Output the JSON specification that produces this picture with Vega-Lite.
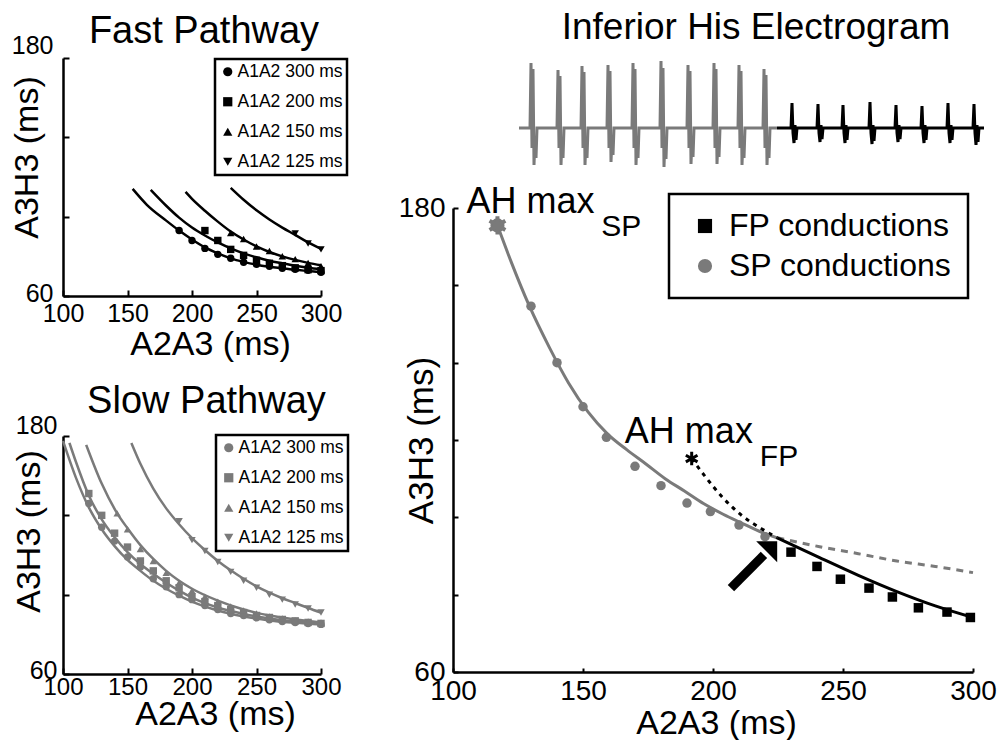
{
  "$schema": "https://vega.github.io/schema/vega-lite/v6.json",
  "padding": {"left": 9, "top": 9, "right": 0, "bottom": 0},
  "config": {
    "font": "Liberation Sans",
    "view": {"stroke": null},
    "axis": {"grid": false, "domainColor": "black", "domainWidth": 2.5, "tickColor": "black", "tickWidth": 2, "labelColor": "black", "titleColor": "black", "titleFontWeight": "normal", "labelFlush": false, "labelOverlap": false, "labelFont": "Liberation Sans", "titleFont": "Liberation Sans"},
    "legend": {"strokeWidth": 2.5, "labelLimit": 400},
    "text": {"color": "black", "font": "Liberation Sans"}
  },
  "datasets": {
    "fast_fit": [
      {"a1a2": "A1A2 300 ms", "a2a3": 154, "a3h3": 114}, {"a1a2": "A1A2 300 ms", "a2a3": 165, "a3h3": 106}, {"a1a2": "A1A2 300 ms", "a2a3": 180, "a3h3": 98}, {"a1a2": "A1A2 300 ms", "a2a3": 190, "a3h3": 93}, {"a1a2": "A1A2 300 ms", "a2a3": 200, "a3h3": 88.5}, {"a1a2": "A1A2 300 ms", "a2a3": 210, "a3h3": 84.5}, {"a1a2": "A1A2 300 ms", "a2a3": 220, "a3h3": 81.5}, {"a1a2": "A1A2 300 ms", "a2a3": 230, "a3h3": 79}, {"a1a2": "A1A2 300 ms", "a2a3": 240, "a3h3": 77.2}, {"a1a2": "A1A2 300 ms", "a2a3": 250, "a3h3": 75.8}, {"a1a2": "A1A2 300 ms", "a2a3": 260, "a3h3": 74.8}, {"a1a2": "A1A2 300 ms", "a2a3": 270, "a3h3": 74}, {"a1a2": "A1A2 300 ms", "a2a3": 280, "a3h3": 73.2}, {"a1a2": "A1A2 300 ms", "a2a3": 290, "a3h3": 72.6}, {"a1a2": "A1A2 300 ms", "a2a3": 300, "a3h3": 72},
      {"a1a2": "A1A2 200 ms", "a2a3": 168, "a3h3": 113.5}, {"a1a2": "A1A2 200 ms", "a2a3": 180, "a3h3": 105.5}, {"a1a2": "A1A2 200 ms", "a2a3": 190, "a3h3": 99.5}, {"a1a2": "A1A2 200 ms", "a2a3": 200, "a3h3": 94.5}, {"a1a2": "A1A2 200 ms", "a2a3": 210, "a3h3": 90.5}, {"a1a2": "A1A2 200 ms", "a2a3": 220, "a3h3": 87}, {"a1a2": "A1A2 200 ms", "a2a3": 230, "a3h3": 84}, {"a1a2": "A1A2 200 ms", "a2a3": 240, "a3h3": 81.5}, {"a1a2": "A1A2 200 ms", "a2a3": 250, "a3h3": 79.5}, {"a1a2": "A1A2 200 ms", "a2a3": 260, "a3h3": 77.8}, {"a1a2": "A1A2 200 ms", "a2a3": 270, "a3h3": 76.5}, {"a1a2": "A1A2 200 ms", "a2a3": 280, "a3h3": 75.3}, {"a1a2": "A1A2 200 ms", "a2a3": 290, "a3h3": 74.3}, {"a1a2": "A1A2 200 ms", "a2a3": 300, "a3h3": 73.5},
      {"a1a2": "A1A2 150 ms", "a2a3": 195, "a3h3": 112.5}, {"a1a2": "A1A2 150 ms", "a2a3": 200, "a3h3": 109}, {"a1a2": "A1A2 150 ms", "a2a3": 210, "a3h3": 103}, {"a1a2": "A1A2 150 ms", "a2a3": 220, "a3h3": 97.5}, {"a1a2": "A1A2 150 ms", "a2a3": 230, "a3h3": 92.5}, {"a1a2": "A1A2 150 ms", "a2a3": 240, "a3h3": 88.5}, {"a1a2": "A1A2 150 ms", "a2a3": 250, "a3h3": 85}, {"a1a2": "A1A2 150 ms", "a2a3": 260, "a3h3": 82.2}, {"a1a2": "A1A2 150 ms", "a2a3": 270, "a3h3": 80}, {"a1a2": "A1A2 150 ms", "a2a3": 280, "a3h3": 78.2}, {"a1a2": "A1A2 150 ms", "a2a3": 290, "a3h3": 76.7}, {"a1a2": "A1A2 150 ms", "a2a3": 300, "a3h3": 75.5},
      {"a1a2": "A1A2 125 ms", "a2a3": 230, "a3h3": 114.5}, {"a1a2": "A1A2 125 ms", "a2a3": 240, "a3h3": 108.5}, {"a1a2": "A1A2 125 ms", "a2a3": 250, "a3h3": 103.2}, {"a1a2": "A1A2 125 ms", "a2a3": 260, "a3h3": 98.6}, {"a1a2": "A1A2 125 ms", "a2a3": 270, "a3h3": 94.5}, {"a1a2": "A1A2 125 ms", "a2a3": 280, "a3h3": 90.8}, {"a1a2": "A1A2 125 ms", "a2a3": 290, "a3h3": 87}, {"a1a2": "A1A2 125 ms", "a2a3": 300, "a3h3": 83.7}
    ],
    "fast_pts": [
      {"a1a2": "A1A2 300 ms", "a2a3": 190, "a3h3": 93}, {"a1a2": "A1A2 300 ms", "a2a3": 200, "a3h3": 88}, {"a1a2": "A1A2 300 ms", "a2a3": 210, "a3h3": 84}, {"a1a2": "A1A2 300 ms", "a2a3": 220, "a3h3": 81}, {"a1a2": "A1A2 300 ms", "a2a3": 230, "a3h3": 79}, {"a1a2": "A1A2 300 ms", "a2a3": 240, "a3h3": 77}, {"a1a2": "A1A2 300 ms", "a2a3": 250, "a3h3": 76}, {"a1a2": "A1A2 300 ms", "a2a3": 260, "a3h3": 75}, {"a1a2": "A1A2 300 ms", "a2a3": 270, "a3h3": 74}, {"a1a2": "A1A2 300 ms", "a2a3": 280, "a3h3": 73.5}, {"a1a2": "A1A2 300 ms", "a2a3": 290, "a3h3": 73}, {"a1a2": "A1A2 300 ms", "a2a3": 300, "a3h3": 72},
      {"a1a2": "A1A2 200 ms", "a2a3": 210, "a3h3": 93}, {"a1a2": "A1A2 200 ms", "a2a3": 220, "a3h3": 88}, {"a1a2": "A1A2 200 ms", "a2a3": 230, "a3h3": 83.5}, {"a1a2": "A1A2 200 ms", "a2a3": 240, "a3h3": 80.5}, {"a1a2": "A1A2 200 ms", "a2a3": 250, "a3h3": 78}, {"a1a2": "A1A2 200 ms", "a2a3": 260, "a3h3": 76.5}, {"a1a2": "A1A2 200 ms", "a2a3": 270, "a3h3": 75.3}, {"a1a2": "A1A2 200 ms", "a2a3": 280, "a3h3": 74.2}, {"a1a2": "A1A2 200 ms", "a2a3": 290, "a3h3": 73.3}, {"a1a2": "A1A2 200 ms", "a2a3": 300, "a3h3": 72.8},
      {"a1a2": "A1A2 150 ms", "a2a3": 230, "a3h3": 91.8}, {"a1a2": "A1A2 150 ms", "a2a3": 240, "a3h3": 88.7}, {"a1a2": "A1A2 150 ms", "a2a3": 250, "a3h3": 85}, {"a1a2": "A1A2 150 ms", "a2a3": 260, "a3h3": 82.7}, {"a1a2": "A1A2 150 ms", "a2a3": 270, "a3h3": 80}, {"a1a2": "A1A2 150 ms", "a2a3": 280, "a3h3": 78.6}, {"a1a2": "A1A2 150 ms", "a2a3": 290, "a3h3": 76.6}, {"a1a2": "A1A2 150 ms", "a2a3": 300, "a3h3": 75},
      {"a1a2": "A1A2 125 ms", "a2a3": 280, "a3h3": 91.5}, {"a1a2": "A1A2 125 ms", "a2a3": 290, "a3h3": 86.5}, {"a1a2": "A1A2 125 ms", "a2a3": 300, "a3h3": 83.5}
    ],
    "slow_fit": [
      {"a1a2": "A1A2 300 ms", "a2a3": 100, "a3h3": 177.5}, {"a1a2": "A1A2 300 ms", "a2a3": 110, "a3h3": 159}, {"a1a2": "A1A2 300 ms", "a2a3": 120, "a3h3": 144}, {"a1a2": "A1A2 300 ms", "a2a3": 130, "a3h3": 133}, {"a1a2": "A1A2 300 ms", "a2a3": 140, "a3h3": 124.5}, {"a1a2": "A1A2 300 ms", "a2a3": 150, "a3h3": 117.5}, {"a1a2": "A1A2 300 ms", "a2a3": 160, "a3h3": 112}, {"a1a2": "A1A2 300 ms", "a2a3": 170, "a3h3": 107}, {"a1a2": "A1A2 300 ms", "a2a3": 180, "a3h3": 103}, {"a1a2": "A1A2 300 ms", "a2a3": 190, "a3h3": 99.5}, {"a1a2": "A1A2 300 ms", "a2a3": 200, "a3h3": 96.5}, {"a1a2": "A1A2 300 ms", "a2a3": 220, "a3h3": 92}, {"a1a2": "A1A2 300 ms", "a2a3": 240, "a3h3": 89}, {"a1a2": "A1A2 300 ms", "a2a3": 260, "a3h3": 87}, {"a1a2": "A1A2 300 ms", "a2a3": 280, "a3h3": 85.8}, {"a1a2": "A1A2 300 ms", "a2a3": 300, "a3h3": 85},
      {"a1a2": "A1A2 200 ms", "a2a3": 105, "a3h3": 176.5}, {"a1a2": "A1A2 200 ms", "a2a3": 110, "a3h3": 167}, {"a1a2": "A1A2 200 ms", "a2a3": 120, "a3h3": 150}, {"a1a2": "A1A2 200 ms", "a2a3": 130, "a3h3": 138}, {"a1a2": "A1A2 200 ms", "a2a3": 140, "a3h3": 129}, {"a1a2": "A1A2 200 ms", "a2a3": 150, "a3h3": 121.5}, {"a1a2": "A1A2 200 ms", "a2a3": 160, "a3h3": 115.5}, {"a1a2": "A1A2 200 ms", "a2a3": 170, "a3h3": 110.5}, {"a1a2": "A1A2 200 ms", "a2a3": 180, "a3h3": 106}, {"a1a2": "A1A2 200 ms", "a2a3": 190, "a3h3": 102}, {"a1a2": "A1A2 200 ms", "a2a3": 200, "a3h3": 98.5}, {"a1a2": "A1A2 200 ms", "a2a3": 220, "a3h3": 93.5}, {"a1a2": "A1A2 200 ms", "a2a3": 240, "a3h3": 90.3}, {"a1a2": "A1A2 200 ms", "a2a3": 260, "a3h3": 88}, {"a1a2": "A1A2 200 ms", "a2a3": 280, "a3h3": 86.5}, {"a1a2": "A1A2 200 ms", "a2a3": 300, "a3h3": 85.5},
      {"a1a2": "A1A2 150 ms", "a2a3": 118, "a3h3": 175.5}, {"a1a2": "A1A2 150 ms", "a2a3": 130, "a3h3": 156}, {"a1a2": "A1A2 150 ms", "a2a3": 142, "a3h3": 141}, {"a1a2": "A1A2 150 ms", "a2a3": 150, "a3h3": 133.5}, {"a1a2": "A1A2 150 ms", "a2a3": 160, "a3h3": 125}, {"a1a2": "A1A2 150 ms", "a2a3": 170, "a3h3": 118}, {"a1a2": "A1A2 150 ms", "a2a3": 180, "a3h3": 112}, {"a1a2": "A1A2 150 ms", "a2a3": 190, "a3h3": 107}, {"a1a2": "A1A2 150 ms", "a2a3": 200, "a3h3": 103}, {"a1a2": "A1A2 150 ms", "a2a3": 220, "a3h3": 97}, {"a1a2": "A1A2 150 ms", "a2a3": 240, "a3h3": 92.5}, {"a1a2": "A1A2 150 ms", "a2a3": 260, "a3h3": 89.5}, {"a1a2": "A1A2 150 ms", "a2a3": 280, "a3h3": 87.5}, {"a1a2": "A1A2 150 ms", "a2a3": 300, "a3h3": 86},
      {"a1a2": "A1A2 125 ms", "a2a3": 153, "a3h3": 176.5}, {"a1a2": "A1A2 125 ms", "a2a3": 160, "a3h3": 166}, {"a1a2": "A1A2 125 ms", "a2a3": 170, "a3h3": 153.5}, {"a1a2": "A1A2 125 ms", "a2a3": 180, "a3h3": 143.5}, {"a1a2": "A1A2 125 ms", "a2a3": 190, "a3h3": 135.5}, {"a1a2": "A1A2 125 ms", "a2a3": 200, "a3h3": 128.5}, {"a1a2": "A1A2 125 ms", "a2a3": 210, "a3h3": 122.5}, {"a1a2": "A1A2 125 ms", "a2a3": 220, "a3h3": 117}, {"a1a2": "A1A2 125 ms", "a2a3": 230, "a3h3": 112.3}, {"a1a2": "A1A2 125 ms", "a2a3": 240, "a3h3": 108}, {"a1a2": "A1A2 125 ms", "a2a3": 250, "a3h3": 104.2}, {"a1a2": "A1A2 125 ms", "a2a3": 260, "a3h3": 101}, {"a1a2": "A1A2 125 ms", "a2a3": 270, "a3h3": 98.2}, {"a1a2": "A1A2 125 ms", "a2a3": 280, "a3h3": 95.8}, {"a1a2": "A1A2 125 ms", "a2a3": 290, "a3h3": 93.3}, {"a1a2": "A1A2 125 ms", "a2a3": 300, "a3h3": 91}
    ],
    "slow_pts": [
      {"a1a2": "A1A2 300 ms", "a2a3": 120, "a3h3": 146}, {"a1a2": "A1A2 300 ms", "a2a3": 130, "a3h3": 134}, {"a1a2": "A1A2 300 ms", "a2a3": 140, "a3h3": 127}, {"a1a2": "A1A2 300 ms", "a2a3": 150, "a3h3": 119}, {"a1a2": "A1A2 300 ms", "a2a3": 160, "a3h3": 114}, {"a1a2": "A1A2 300 ms", "a2a3": 170, "a3h3": 108}, {"a1a2": "A1A2 300 ms", "a2a3": 180, "a3h3": 104}, {"a1a2": "A1A2 300 ms", "a2a3": 190, "a3h3": 100}, {"a1a2": "A1A2 300 ms", "a2a3": 200, "a3h3": 97.5}, {"a1a2": "A1A2 300 ms", "a2a3": 210, "a3h3": 94.5}, {"a1a2": "A1A2 300 ms", "a2a3": 220, "a3h3": 92.5}, {"a1a2": "A1A2 300 ms", "a2a3": 230, "a3h3": 90.5}, {"a1a2": "A1A2 300 ms", "a2a3": 240, "a3h3": 89.5}, {"a1a2": "A1A2 300 ms", "a2a3": 250, "a3h3": 88.3}, {"a1a2": "A1A2 300 ms", "a2a3": 260, "a3h3": 87.3}, {"a1a2": "A1A2 300 ms", "a2a3": 270, "a3h3": 86.5}, {"a1a2": "A1A2 300 ms", "a2a3": 280, "a3h3": 86}, {"a1a2": "A1A2 300 ms", "a2a3": 290, "a3h3": 85.5}, {"a1a2": "A1A2 300 ms", "a2a3": 300, "a3h3": 85},
      {"a1a2": "A1A2 200 ms", "a2a3": 120, "a3h3": 151}, {"a1a2": "A1A2 200 ms", "a2a3": 130, "a3h3": 140}, {"a1a2": "A1A2 200 ms", "a2a3": 140, "a3h3": 131}, {"a1a2": "A1A2 200 ms", "a2a3": 150, "a3h3": 124}, {"a1a2": "A1A2 200 ms", "a2a3": 160, "a3h3": 117}, {"a1a2": "A1A2 200 ms", "a2a3": 170, "a3h3": 112}, {"a1a2": "A1A2 200 ms", "a2a3": 180, "a3h3": 107}, {"a1a2": "A1A2 200 ms", "a2a3": 190, "a3h3": 103.5}, {"a1a2": "A1A2 200 ms", "a2a3": 200, "a3h3": 99}, {"a1a2": "A1A2 200 ms", "a2a3": 210, "a3h3": 96.5}, {"a1a2": "A1A2 200 ms", "a2a3": 220, "a3h3": 94.5}, {"a1a2": "A1A2 200 ms", "a2a3": 230, "a3h3": 92.5}, {"a1a2": "A1A2 200 ms", "a2a3": 240, "a3h3": 91}, {"a1a2": "A1A2 200 ms", "a2a3": 250, "a3h3": 89.5}, {"a1a2": "A1A2 200 ms", "a2a3": 260, "a3h3": 88.5}, {"a1a2": "A1A2 200 ms", "a2a3": 270, "a3h3": 87.5}, {"a1a2": "A1A2 200 ms", "a2a3": 280, "a3h3": 86.8}, {"a1a2": "A1A2 200 ms", "a2a3": 290, "a3h3": 86}, {"a1a2": "A1A2 200 ms", "a2a3": 300, "a3h3": 85.5},
      {"a1a2": "A1A2 150 ms", "a2a3": 142, "a3h3": 141}, {"a1a2": "A1A2 150 ms", "a2a3": 150, "a3h3": 133}, {"a1a2": "A1A2 150 ms", "a2a3": 160, "a3h3": 123}, {"a1a2": "A1A2 150 ms", "a2a3": 170, "a3h3": 117}, {"a1a2": "A1A2 150 ms", "a2a3": 180, "a3h3": 111}, {"a1a2": "A1A2 150 ms", "a2a3": 190, "a3h3": 106}, {"a1a2": "A1A2 150 ms", "a2a3": 200, "a3h3": 102}, {"a1a2": "A1A2 150 ms", "a2a3": 210, "a3h3": 99}, {"a1a2": "A1A2 150 ms", "a2a3": 220, "a3h3": 96.5}, {"a1a2": "A1A2 150 ms", "a2a3": 230, "a3h3": 94}, {"a1a2": "A1A2 150 ms", "a2a3": 240, "a3h3": 92}, {"a1a2": "A1A2 150 ms", "a2a3": 250, "a3h3": 90.5}, {"a1a2": "A1A2 150 ms", "a2a3": 260, "a3h3": 89}, {"a1a2": "A1A2 150 ms", "a2a3": 270, "a3h3": 88}, {"a1a2": "A1A2 150 ms", "a2a3": 280, "a3h3": 87}, {"a1a2": "A1A2 150 ms", "a2a3": 290, "a3h3": 86.5}, {"a1a2": "A1A2 150 ms", "a2a3": 300, "a3h3": 86},
      {"a1a2": "A1A2 125 ms", "a2a3": 190, "a3h3": 137}, {"a1a2": "A1A2 125 ms", "a2a3": 200, "a3h3": 127.5}, {"a1a2": "A1A2 125 ms", "a2a3": 210, "a3h3": 122}, {"a1a2": "A1A2 125 ms", "a2a3": 220, "a3h3": 116.5}, {"a1a2": "A1A2 125 ms", "a2a3": 230, "a3h3": 111.5}, {"a1a2": "A1A2 125 ms", "a2a3": 240, "a3h3": 107}, {"a1a2": "A1A2 125 ms", "a2a3": 250, "a3h3": 103.5}, {"a1a2": "A1A2 125 ms", "a2a3": 260, "a3h3": 100}, {"a1a2": "A1A2 125 ms", "a2a3": 270, "a3h3": 97.5}, {"a1a2": "A1A2 125 ms", "a2a3": 280, "a3h3": 95}, {"a1a2": "A1A2 125 ms", "a2a3": 290, "a3h3": 93}, {"a1a2": "A1A2 125 ms", "a2a3": 300, "a3h3": 91}
    ],
    "main_curves": [
      {"seg": "sp_fit", "a2a3": 117.1, "a3h3": 175.5}, {"seg": "sp_fit", "a2a3": 122.3, "a3h3": 166.2}, {"seg": "sp_fit", "a2a3": 129.4, "a3h3": 154.6}, {"seg": "sp_fit", "a2a3": 137.1, "a3h3": 143.9}, {"seg": "sp_fit", "a2a3": 144.5, "a3h3": 134.7}, {"seg": "sp_fit", "a2a3": 152, "a3h3": 127.2}, {"seg": "sp_fit", "a2a3": 159.4, "a3h3": 121.6}, {"seg": "sp_fit", "a2a3": 166.8, "a3h3": 117.5}, {"seg": "sp_fit", "a2a3": 174.2, "a3h3": 113.8}, {"seg": "sp_fit", "a2a3": 181.6, "a3h3": 110}, {"seg": "sp_fit", "a2a3": 189, "a3h3": 106.8}, {"seg": "sp_fit", "a2a3": 196.5, "a3h3": 103.5}, {"seg": "sp_fit", "a2a3": 203.9, "a3h3": 100.8}, {"seg": "sp_fit", "a2a3": 211.4, "a3h3": 98.4}, {"seg": "sp_fit", "a2a3": 218.8, "a3h3": 96.1}, {"seg": "sp_fit", "a2a3": 224.7, "a3h3": 94.7},
      {"seg": "sp_ext", "a2a3": 224.7, "a3h3": 94.7}, {"seg": "sp_ext", "a2a3": 241, "a3h3": 92.4}, {"seg": "sp_ext", "a2a3": 255.9, "a3h3": 90.6}, {"seg": "sp_ext", "a2a3": 270.7, "a3h3": 88.7}, {"seg": "sp_ext", "a2a3": 285.5, "a3h3": 87.3}, {"seg": "sp_ext", "a2a3": 300, "a3h3": 85.7},
      {"seg": "fp_fit", "a2a3": 224.7, "a3h3": 94.7}, {"seg": "fp_fit", "a2a3": 241, "a3h3": 89.6}, {"seg": "fp_fit", "a2a3": 255.9, "a3h3": 85}, {"seg": "fp_fit", "a2a3": 270.7, "a3h3": 80.8}, {"seg": "fp_fit", "a2a3": 285.5, "a3h3": 77.1}, {"seg": "fp_fit", "a2a3": 300, "a3h3": 74.1},
      {"seg": "fp_ext", "a2a3": 191.8, "a3h3": 115.2}, {"seg": "fp_ext", "a2a3": 196.5, "a3h3": 111}, {"seg": "fp_ext", "a2a3": 203.9, "a3h3": 105}, {"seg": "fp_ext", "a2a3": 211.4, "a3h3": 100.3}, {"seg": "fp_ext", "a2a3": 218.8, "a3h3": 97}, {"seg": "fp_ext", "a2a3": 224.7, "a3h3": 94.7}
    ],
    "main_pts": [
      {"kind": "SP conductions", "a2a3": 130, "a3h3": 154.6}, {"kind": "SP conductions", "a2a3": 140, "a3h3": 140}, {"kind": "SP conductions", "a2a3": 150, "a3h3": 128.6}, {"kind": "SP conductions", "a2a3": 159, "a3h3": 120.7}, {"kind": "SP conductions", "a2a3": 170, "a3h3": 113.2}, {"kind": "SP conductions", "a2a3": 180, "a3h3": 108.2}, {"kind": "SP conductions", "a2a3": 190, "a3h3": 103.7}, {"kind": "SP conductions", "a2a3": 199, "a3h3": 101.5}, {"kind": "SP conductions", "a2a3": 210, "a3h3": 98}, {"kind": "SP conductions", "a2a3": 220, "a3h3": 95},
      {"kind": "FP conductions", "a2a3": 230, "a3h3": 91}, {"kind": "FP conductions", "a2a3": 240, "a3h3": 87.3}, {"kind": "FP conductions", "a2a3": 249, "a3h3": 84}, {"kind": "FP conductions", "a2a3": 260, "a3h3": 81.7}, {"kind": "FP conductions", "a2a3": 269, "a3h3": 79.4}, {"kind": "FP conductions", "a2a3": 279, "a3h3": 76.6}, {"kind": "FP conductions", "a2a3": 290, "a3h3": 75.5}, {"kind": "FP conductions", "a2a3": 299, "a3h3": 74.1}
    ],
    "ah_max": [
      {"pt": "SP", "a2a3": 117.1, "a3h3": 175.5},
      {"pt": "FP", "a2a3": 191.8, "a3h3": 115.2}
    ],
    "egram": [
      {"s": "SP", "t": 66, "v": 0},
      {"s": "SP", "t": 71, "v": 0}, {"s": "SP", "t": 77, "v": 0}, {"s": "SP", "t": 78, "v": 6.5}, {"s": "SP", "t": 79, "v": -2}, {"s": "SP", "t": 80, "v": 5.9}, {"s": "SP", "t": 81, "v": -3.7}, {"s": "SP", "t": 82, "v": -1}, {"s": "SP", "t": 83, "v": -3}, {"s": "SP", "t": 84, "v": 0},
      {"s": "SP", "t": 98, "v": 0}, {"s": "SP", "t": 104, "v": 0}, {"s": "SP", "t": 105, "v": 5.8}, {"s": "SP", "t": 106, "v": -2}, {"s": "SP", "t": 107, "v": 5.2}, {"s": "SP", "t": 108, "v": -3.7}, {"s": "SP", "t": 109, "v": -1}, {"s": "SP", "t": 110, "v": -3}, {"s": "SP", "t": 111, "v": 0},
      {"s": "SP", "t": 122, "v": 0}, {"s": "SP", "t": 128, "v": 0}, {"s": "SP", "t": 129, "v": 6.2}, {"s": "SP", "t": 130, "v": -2}, {"s": "SP", "t": 131, "v": 5.6}, {"s": "SP", "t": 132, "v": -3.7}, {"s": "SP", "t": 133, "v": -1}, {"s": "SP", "t": 134, "v": -3}, {"s": "SP", "t": 135, "v": 0},
      {"s": "SP", "t": 148, "v": 0}, {"s": "SP", "t": 154, "v": 0}, {"s": "SP", "t": 155, "v": 6.3}, {"s": "SP", "t": 156, "v": -2}, {"s": "SP", "t": 157, "v": 5.7}, {"s": "SP", "t": 158, "v": -3.4}, {"s": "SP", "t": 159, "v": -1}, {"s": "SP", "t": 160, "v": -2.7}, {"s": "SP", "t": 161, "v": 0},
      {"s": "SP", "t": 173, "v": 0}, {"s": "SP", "t": 179, "v": 0}, {"s": "SP", "t": 180, "v": 6.5}, {"s": "SP", "t": 181, "v": -2}, {"s": "SP", "t": 182, "v": 5.9}, {"s": "SP", "t": 183, "v": -3.7}, {"s": "SP", "t": 184, "v": -1}, {"s": "SP", "t": 185, "v": -3}, {"s": "SP", "t": 186, "v": 0},
      {"s": "SP", "t": 201, "v": 0}, {"s": "SP", "t": 207, "v": 0}, {"s": "SP", "t": 208, "v": 6.7}, {"s": "SP", "t": 209, "v": -2}, {"s": "SP", "t": 210, "v": 6}, {"s": "SP", "t": 211, "v": -3.9}, {"s": "SP", "t": 212, "v": -1}, {"s": "SP", "t": 213, "v": -3.1}, {"s": "SP", "t": 214, "v": 0},
      {"s": "SP", "t": 228, "v": 0}, {"s": "SP", "t": 234, "v": 0}, {"s": "SP", "t": 235, "v": 6.3}, {"s": "SP", "t": 236, "v": -2}, {"s": "SP", "t": 237, "v": 5.7}, {"s": "SP", "t": 238, "v": -3.6}, {"s": "SP", "t": 239, "v": -1}, {"s": "SP", "t": 240, "v": -2.9}, {"s": "SP", "t": 241, "v": 0},
      {"s": "SP", "t": 254, "v": 0}, {"s": "SP", "t": 260, "v": 0}, {"s": "SP", "t": 261, "v": 6.5}, {"s": "SP", "t": 262, "v": -2}, {"s": "SP", "t": 263, "v": 5.9}, {"s": "SP", "t": 264, "v": -3.6}, {"s": "SP", "t": 265, "v": -1}, {"s": "SP", "t": 266, "v": -2.9}, {"s": "SP", "t": 267, "v": 0},
      {"s": "SP", "t": 279, "v": 0}, {"s": "SP", "t": 285, "v": 0}, {"s": "SP", "t": 286, "v": 6.3}, {"s": "SP", "t": 287, "v": -2}, {"s": "SP", "t": 288, "v": 5.7}, {"s": "SP", "t": 289, "v": -3.7}, {"s": "SP", "t": 290, "v": -1}, {"s": "SP", "t": 291, "v": -3}, {"s": "SP", "t": 292, "v": 0},
      {"s": "SP", "t": 304, "v": 0}, {"s": "SP", "t": 310, "v": 0}, {"s": "SP", "t": 311, "v": 5.9}, {"s": "SP", "t": 312, "v": -2}, {"s": "SP", "t": 313, "v": 5.3}, {"s": "SP", "t": 314, "v": -3.7}, {"s": "SP", "t": 315, "v": -1}, {"s": "SP", "t": 316, "v": -3}, {"s": "SP", "t": 317, "v": 0}, {"s": "SP", "t": 324, "v": 0},
      {"s": "FP", "t": 324, "v": 0},
      {"s": "FP", "t": 332, "v": 0}, {"s": "FP", "t": 338, "v": 0}, {"s": "FP", "t": 339, "v": 2.5}, {"s": "FP", "t": 340, "v": -0.5}, {"s": "FP", "t": 341, "v": -1.5}, {"s": "FP", "t": 342, "v": 0.3}, {"s": "FP", "t": 343, "v": -1.2}, {"s": "FP", "t": 344, "v": 0},
      {"s": "FP", "t": 358, "v": 0}, {"s": "FP", "t": 364, "v": 0}, {"s": "FP", "t": 365, "v": 2.4}, {"s": "FP", "t": 366, "v": -0.5}, {"s": "FP", "t": 367, "v": -1.4}, {"s": "FP", "t": 368, "v": 0.3}, {"s": "FP", "t": 369, "v": -1.1}, {"s": "FP", "t": 370, "v": 0},
      {"s": "FP", "t": 383, "v": 0}, {"s": "FP", "t": 389, "v": 0}, {"s": "FP", "t": 390, "v": 2.3}, {"s": "FP", "t": 391, "v": -0.5}, {"s": "FP", "t": 392, "v": -1.5}, {"s": "FP", "t": 393, "v": 0.3}, {"s": "FP", "t": 394, "v": -1.2}, {"s": "FP", "t": 395, "v": 0},
      {"s": "FP", "t": 410, "v": 0}, {"s": "FP", "t": 416, "v": 0}, {"s": "FP", "t": 417, "v": 2.6}, {"s": "FP", "t": 418, "v": -0.5}, {"s": "FP", "t": 419, "v": -1.6}, {"s": "FP", "t": 420, "v": 0.3}, {"s": "FP", "t": 421, "v": -1.3}, {"s": "FP", "t": 422, "v": 0},
      {"s": "FP", "t": 436, "v": 0}, {"s": "FP", "t": 442, "v": 0}, {"s": "FP", "t": 443, "v": 2.3}, {"s": "FP", "t": 444, "v": -0.5}, {"s": "FP", "t": 445, "v": -1.4}, {"s": "FP", "t": 446, "v": 0.3}, {"s": "FP", "t": 447, "v": -1.1}, {"s": "FP", "t": 448, "v": 0},
      {"s": "FP", "t": 462, "v": 0}, {"s": "FP", "t": 468, "v": 0}, {"s": "FP", "t": 469, "v": 2.2}, {"s": "FP", "t": 470, "v": -0.5}, {"s": "FP", "t": 471, "v": -1.5}, {"s": "FP", "t": 472, "v": 0.3}, {"s": "FP", "t": 473, "v": -1.2}, {"s": "FP", "t": 474, "v": 0},
      {"s": "FP", "t": 488, "v": 0}, {"s": "FP", "t": 494, "v": 0}, {"s": "FP", "t": 495, "v": 2.5}, {"s": "FP", "t": 496, "v": -0.5}, {"s": "FP", "t": 497, "v": -1.5}, {"s": "FP", "t": 498, "v": 0.3}, {"s": "FP", "t": 499, "v": -1.2}, {"s": "FP", "t": 500, "v": 0},
      {"s": "FP", "t": 514, "v": 0}, {"s": "FP", "t": 520, "v": 0}, {"s": "FP", "t": 521, "v": 2.4}, {"s": "FP", "t": 522, "v": -0.5}, {"s": "FP", "t": 523, "v": -1.7}, {"s": "FP", "t": 524, "v": 0.3}, {"s": "FP", "t": 525, "v": -1.4}, {"s": "FP", "t": 526, "v": 0}, {"s": "FP", "t": 531, "v": 0}
    ]
  },
  "spacing": 48,
  "resolve": {"scale": {"color": "independent", "shape": "independent"}, "legend": {"color": "independent", "shape": "independent"}},
  "hconcat": [
    {
      "spacing": 21,
      "resolve": {"scale": {"color": "independent", "shape": "independent"}, "legend": {"color": "independent", "shape": "independent"}},
      "vconcat": [
        {
          "width": 258, "height": 238,
          "layer": [
            {"data": {"name": "fast_fit"}, "mark": {"type": "line", "color": "black", "strokeWidth": 2.5, "interpolate": "monotone"},
              "encoding": {
                "x": {"field": "a2a3", "type": "quantitative", "scale": {"domain": [100, 300], "nice": false, "zero": false},
                  "axis": {"title": "A2A3 (ms)", "values": [100, 150, 200, 250, 300], "tickSize": -6, "labelPadding": 11, "labelFontSize": 25, "titleFontSize": 34, "titleX": 147, "titleY": 58, "titleBaseline": "alphabetic", "titleAlign": "center"}},
                "y": {"field": "a3h3", "type": "quantitative", "scale": {"domain": [60, 180], "nice": false, "zero": false},
                  "axis": {"title": "A3H3 (ms)", "values": [60, 80, 100, 120, 140, 160, 180], "labelExpr": "datum.value == 60 || datum.value == 180 ? datum.label : ''", "tickSize": -6, "labelPadding": 16, "labelFontSize": 25, "labelBaseline": {"condition": {"test": "datum.value == 180", "value": "bottom"}, "value": "middle"}, "labelOffset": {"condition": {"test": "datum.value == 180", "value": 0}, "value": -3}, "titleFontSize": 34, "titleX": -36, "titleY": 99, "titleBaseline": "middle", "titleAlign": "center", "titleAngle": 270}},
                "detail": {"field": "a1a2"}}},
            {"data": {"name": "fast_pts"}, "mark": {"type": "point", "filled": true, "color": "black", "size": 55, "opacity": 1},
              "encoding": {
                "x": {"field": "a2a3", "type": "quantitative"},
                "y": {"field": "a3h3", "type": "quantitative"},
                "shape": {"field": "a1a2", "type": "nominal",
                "scale": {"domain": ["A1A2 300 ms", "A1A2 200 ms", "A1A2 150 ms", "A1A2 125 ms"], "range": ["circle", "square", "triangle-up", "triangle-down"]},
                "legend": {"title": null, "orient": "none", "legendX": 152, "legendY": 1, "direction": "vertical", "strokeColor": "black", "fillColor": "white", "padding": 4, "rowPadding": 11, "labelFontSize": 17.5, "labelColor": "black", "labelOffset": 1, "symbolSize": 85, "symbolFillColor": "black", "symbolStrokeColor": "black", "symbolStrokeWidth": 0, "symbolOpacity": 1}}}},
            {"data": {"values": [{}]}, "mark": {"type": "text", "text": "Fast Pathway", "fontSize": 38, "align": "center", "baseline": "alphabetic"}, "encoding": {"x": {"datum": 209.3}, "y": {"datum": 187.6}}}
          ]
        },
        {
          "width": 258, "height": 238,
          "layer": [
            {"data": {"name": "slow_fit"}, "mark": {"type": "line", "color": "#7a7a7a", "strokeWidth": 2.5, "interpolate": "monotone"},
              "encoding": {
                "x": {"field": "a2a3", "type": "quantitative", "scale": {"domain": [100, 300], "nice": false, "zero": false},
                  "axis": {"title": "A2A3 (ms)", "values": [100, 150, 200, 250, 300], "tickSize": -6, "labelPadding": 7, "labelFontSize": 24, "titleFontSize": 34, "titleX": 152, "titleY": 50, "titleBaseline": "alphabetic", "titleAlign": "center"}},
                "y": {"field": "a3h3", "type": "quantitative", "scale": {"domain": [60, 180], "nice": false, "zero": false},
                  "axis": {"title": "A3H3 (ms)", "values": [60, 80, 100, 120, 140, 160, 180], "labelExpr": "datum.value == 60 || datum.value == 180 ? datum.label : ''", "tickSize": -6, "labelPadding": 12, "labelFontSize": 25, "labelBaseline": {"condition": {"test": "datum.value == 180", "value": "bottom"}, "value": "middle"}, "labelOffset": {"condition": {"test": "datum.value == 180", "value": 2}, "value": -4}, "titleFontSize": 34, "titleX": -34, "titleY": 95, "titleBaseline": "middle", "titleAlign": "center", "titleAngle": 270}},
                "detail": {"field": "a1a2"}}},
            {"data": {"name": "slow_pts"}, "mark": {"type": "point", "filled": true, "color": "#7a7a7a", "size": 55, "opacity": 1},
              "encoding": {
                "x": {"field": "a2a3", "type": "quantitative"},
                "y": {"field": "a3h3", "type": "quantitative"},
                "shape": {"field": "a1a2", "type": "nominal",
                "scale": {"domain": ["A1A2 300 ms", "A1A2 200 ms", "A1A2 150 ms", "A1A2 125 ms"], "range": ["circle", "square", "triangle-up", "triangle-down"]},
                "legend": {"title": null, "orient": "none", "legendX": 153, "legendY": -1, "direction": "vertical", "strokeColor": "black", "fillColor": "white", "padding": 4, "rowPadding": 11, "labelFontSize": 17.5, "labelColor": "black", "labelOffset": 1, "symbolSize": 85, "symbolFillColor": "#7a7a7a", "symbolStrokeColor": "#7a7a7a", "symbolStrokeWidth": 0, "symbolOpacity": 1}}}},
            {"data": {"values": [{}]}, "mark": {"type": "text", "text": "Slow Pathway", "fontSize": 38, "align": "center", "baseline": "alphabetic"}, "encoding": {"x": {"datum": 211.2}, "y": {"datum": 191.6}}}
          ]
        }
      ]
    },
    {
      "spacing": 11,
      "resolve": {"scale": {"color": "independent", "shape": "independent"}, "legend": {"color": "independent", "shape": "independent"}},
      "vconcat": [
        {
          "width": 538, "height": 115,
          "layer": [
            {"data": {"name": "egram"}, "mark": {"type": "line", "strokeWidth": 3, "strokeJoin": "miter"},
              "encoding": {
                "x": {"field": "t", "type": "quantitative", "scale": {"domain": [0, 538], "nice": false, "zero": false}, "axis": null},
                "y": {"field": "v", "type": "quantitative", "scale": {"domain": [-4.5, 7], "nice": false, "zero": false}, "axis": null},
                "color": {"field": "s", "type": "nominal", "scale": {"domain": ["SP", "FP"], "range": ["#7a7a7a", "black"]}, "legend": null}}},
            {"data": {"values": [{}]}, "mark": {"type": "text", "text": "Inferior His Electrogram", "fontSize": 37, "align": "center", "baseline": "alphabetic"}, "encoding": {"x": {"datum": 303}, "y": {"datum": 8.9}}}
          ]
        },
        {
          "width": 520, "height": 464,
          "layer": [
            {"data": {"name": "main_curves"}, "transform": [{"filter": "datum.seg == 'sp_fit'"}], "mark": {"type": "line", "color": "#7a7a7a", "strokeWidth": 3, "interpolate": "monotone"},
              "encoding": {
                "x": {"field": "a2a3", "type": "quantitative", "scale": {"domain": [100, 300], "nice": false, "zero": false},
                  "axis": {"title": "A2A3 (ms)", "values": [100, 150, 200, 250, 300], "tickSize": -4, "labelPadding": 9, "labelFontSize": 28, "titleFontSize": 34, "titleX": 263, "titleY": 61, "titleBaseline": "alphabetic", "titleAlign": "center"}},
                "y": {"field": "a3h3", "type": "quantitative", "scale": {"domain": [60, 180], "nice": false, "zero": false},
                  "axis": {"title": "A3H3 (ms)", "values": [60, 80, 100, 120, 140, 160, 180], "labelExpr": "datum.value == 60 || datum.value == 180 ? datum.label : ''", "tickSize": -5, "labelPadding": 13, "labelFontSize": 28, "titleFontSize": 35, "titleX": -32, "titleY": 232, "titleBaseline": "middle", "titleAlign": "center", "titleAngle": 270}}}},
            {"data": {"name": "main_curves"}, "transform": [{"filter": "datum.seg == 'sp_ext'"}], "mark": {"type": "line", "color": "#7a7a7a", "strokeWidth": 3, "strokeDash": [7, 6], "interpolate": "monotone"},
              "encoding": {"x": {"field": "a2a3", "type": "quantitative"}, "y": {"field": "a3h3", "type": "quantitative"}}},
            {"data": {"name": "main_curves"}, "transform": [{"filter": "datum.seg == 'fp_fit'"}], "mark": {"type": "line", "color": "black", "strokeWidth": 3, "interpolate": "monotone"},
              "encoding": {"x": {"field": "a2a3", "type": "quantitative"}, "y": {"field": "a3h3", "type": "quantitative"}}},
            {"data": {"name": "main_curves"}, "transform": [{"filter": "datum.seg == 'fp_ext'"}], "mark": {"type": "line", "color": "black", "strokeWidth": 3, "strokeDash": [4, 5], "interpolate": "monotone"},
              "encoding": {"x": {"field": "a2a3", "type": "quantitative"}, "y": {"field": "a3h3", "type": "quantitative"}}},
            {"data": {"name": "main_pts"}, "mark": {"type": "point", "filled": true, "size": 90, "opacity": 1},
              "encoding": {
                "x": {"field": "a2a3", "type": "quantitative"}, "y": {"field": "a3h3", "type": "quantitative"},
                "color": {"field": "kind", "type": "nominal", "scale": {"domain": ["FP conductions", "SP conductions"], "range": ["black", "#7a7a7a"]},
                  "legend": {"title": null, "orient": "none", "legendX": 216, "legendY": -14, "direction": "vertical", "strokeColor": "black", "fillColor": "white", "padding": 16, "rowPadding": 8, "labelFontSize": 32, "labelColor": "black", "labelOffset": 8, "labelLimit": 400, "symbolOffset": 4, "symbolSize": 200, "symbolStrokeWidth": 0, "symbolOpacity": 1}},
                "shape": {"field": "kind", "type": "nominal", "scale": {"domain": ["FP conductions", "SP conductions"], "range": ["square", "circle"]},
                  "legend": {"title": null, "orient": "none", "legendX": 216, "legendY": -14, "direction": "vertical", "strokeColor": "black", "fillColor": "white", "padding": 16, "rowPadding": 8, "labelFontSize": 32, "labelColor": "black", "labelOffset": 8, "labelLimit": 400, "symbolOffset": 4, "symbolSize": 200, "symbolStrokeWidth": 0, "symbolOpacity": 1}}
              }},
            {"data": {"name": "ah_max"}, "transform": [{"filter": "datum.pt == 'SP'"}], "mark": {"type": "point", "shape": "circle", "filled": true, "color": "#7a7a7a", "size": 200, "opacity": 1},
              "encoding": {"x": {"field": "a2a3", "type": "quantitative"}, "y": {"field": "a3h3", "type": "quantitative"}}},
            {"data": {"name": "ah_max"}, "transform": [{"filter": "datum.pt == 'SP'"}], "mark": {"type": "point", "shape": "M0,-1L0,1M-0.87,-0.5L0.87,0.5M-0.87,0.5L0.87,-0.5", "filled": false, "color": "#7a7a7a", "strokeWidth": 4, "size": 330, "opacity": 1},
              "encoding": {"x": {"field": "a2a3", "type": "quantitative"}, "y": {"field": "a3h3", "type": "quantitative"}}},
            {"data": {"name": "ah_max"}, "transform": [{"filter": "datum.pt == 'FP'"}], "mark": {"type": "point", "shape": "M0,-1L0,1M-0.87,-0.5L0.87,0.5M-0.87,0.5L0.87,-0.5", "filled": false, "color": "black", "strokeWidth": 3, "size": 180, "opacity": 1},
              "encoding": {"x": {"field": "a2a3", "type": "quantitative"}, "y": {"field": "a3h3", "type": "quantitative"}}},
            {"data": {"values": [{}]}, "mark": {"type": "rule", "color": "black", "strokeWidth": 9}, "encoding": {"x": {"datum": 206.9}, "y": {"datum": 81.7}, "x2": {"datum": 219.6}, "y2": {"datum": 90.3}}},
            {"data": {"values": [{}]}, "mark": {"type": "point", "shape": "M1,-1L1,1L-1,-1Z", "filled": true, "color": "black", "size": 441, "opacity": 1, "strokeWidth": 0}, "encoding": {"x": {"datum": 220.65}, "y": {"datum": 91.1}}},
            {"data": {"values": [{}]}, "mark": {"type": "text", "text": "AH max", "fontSize": 36, "align": "left", "baseline": "alphabetic"}, "encoding": {"x": {"datum": 105.2}, "y": {"datum": 178.7}}},
            {"data": {"values": [{}]}, "mark": {"type": "text", "text": "SP", "fontSize": 30, "align": "left", "baseline": "alphabetic"}, "encoding": {"x": {"datum": 157}, "y": {"datum": 172.8}}},
            {"data": {"values": [{}]}, "mark": {"type": "text", "text": "AH max", "fontSize": 36, "align": "left", "baseline": "alphabetic"}, "encoding": {"x": {"datum": 166.1}, "y": {"datum": 119.3}}},
            {"data": {"values": [{}]}, "mark": {"type": "text", "text": "FP", "fontSize": 30, "align": "left", "baseline": "alphabetic"}, "encoding": {"x": {"datum": 218}, "y": {"datum": 113.3}}}
          ]
        }
      ]
    }
  ]
}
